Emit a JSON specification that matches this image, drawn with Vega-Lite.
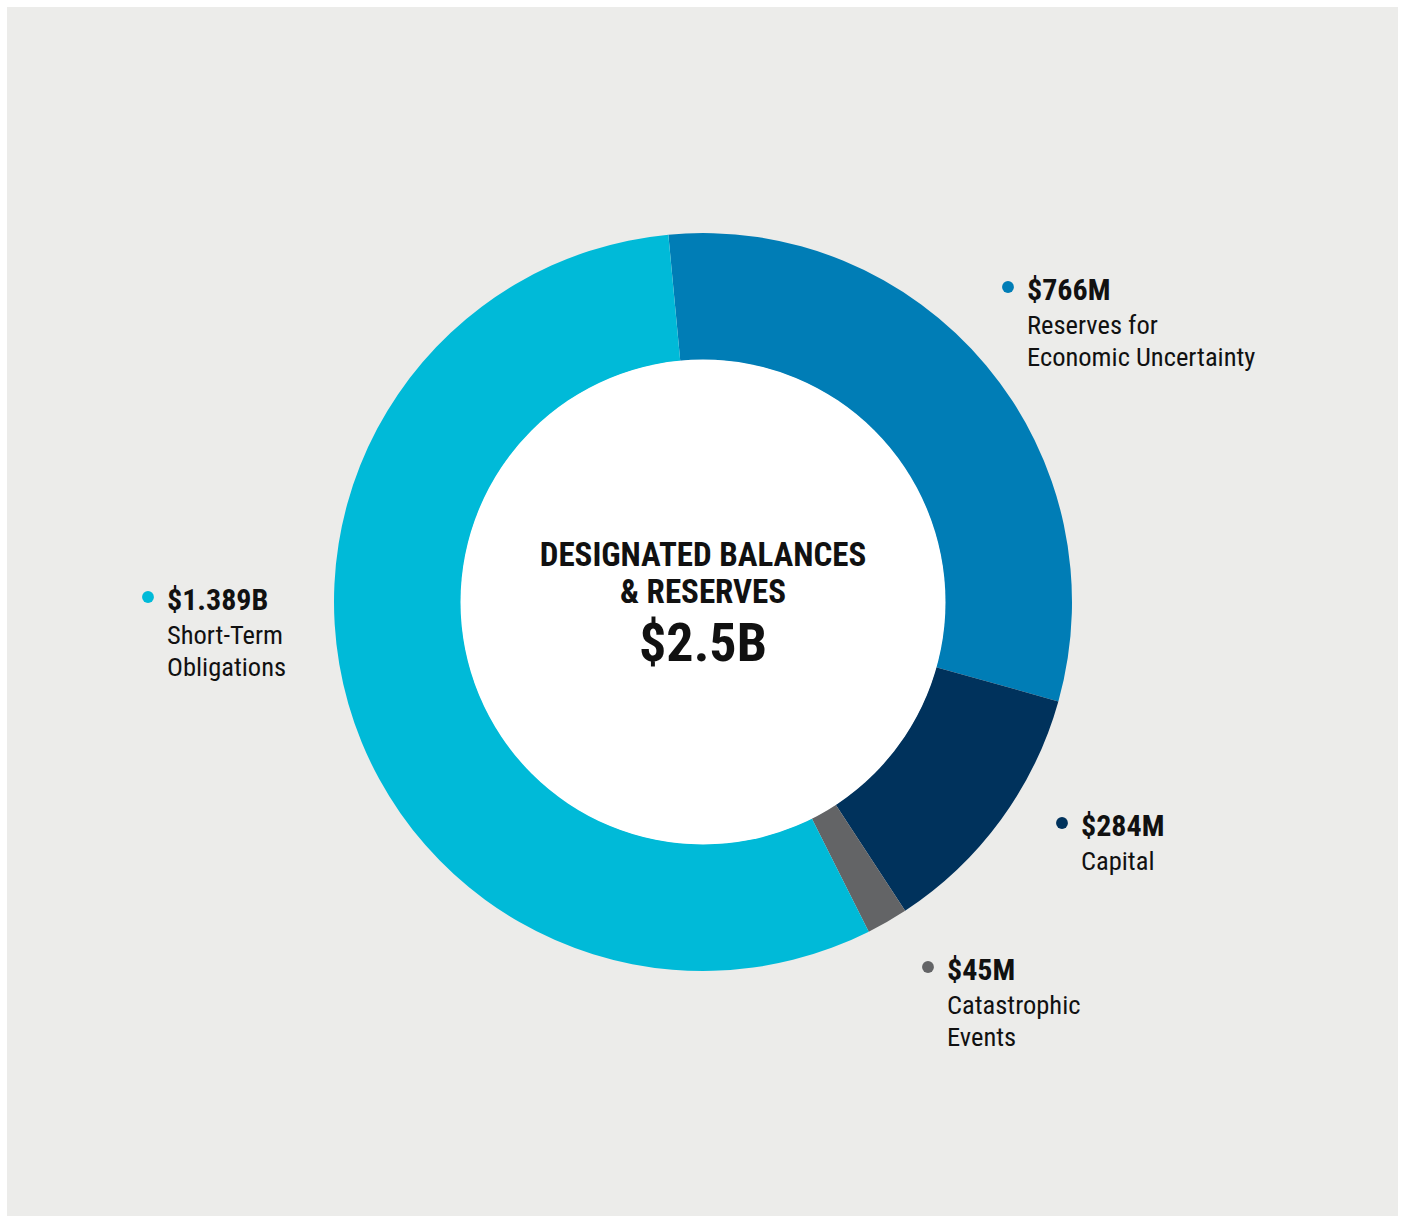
{
  "$schema": "https://vega.github.io/schema/vega-lite/v6.json",
  "width": 1403,
  "height": 1216,
  "autosize": {"type": "fit", "contains": "padding"},
  "padding": {"left": 7, "top": 7, "right": 5, "bottom": 0},
  "background": "#FFFFFF",
  "config": {
    "view": {"fill": "#ECECEA", "stroke": null},
    "font": "Roboto Condensed, 'Liberation Sans Narrow', 'DejaVu Sans Condensed', sans-serif"
  },
  "data": {
    "values": [
      {"cat": "Reserves for Economic Uncertainty", "value": 766, "order": 1, "amount": "$766M", "d1": "Reserves for", "d2": "Economic Uncertainty", "lx": 324, "ly": 302},
      {"cat": "Capital", "value": 284, "order": 2, "amount": "$284M", "d1": "Capital", "d2": "", "lx": 378, "ly": -234},
      {"cat": "Catastrophic Events", "value": 45, "order": 3, "amount": "$45M", "d1": "Catastrophic", "d2": "Events", "lx": 244, "ly": -378},
      {"cat": "Short-Term Obligations", "value": 1389, "order": 4, "amount": "$1.389B", "d1": "Short-Term", "d2": "Obligations", "lx": -536, "ly": -8}
    ]
  },
  "encoding": {
    "color": {
      "field": "cat",
      "type": "nominal",
      "scale": {
        "domain": ["Reserves for Economic Uncertainty", "Capital", "Catastrophic Events", "Short-Term Obligations"],
        "range": ["#007DB6", "#00325C", "#636466", "#00BAD8"]
      },
      "legend": null
    }
  },
  "layer": [
    {
      "mark": {"type": "arc", "innerRadius": 242, "outerRadius": 369},
      "encoding": {
        "x": {"datum": 0, "type": "quantitative", "scale": {"domain": [-696, 695], "nice": false, "zero": false}, "axis": null},
        "y": {"datum": 0, "type": "quantitative", "scale": {"domain": [-614, 595], "nice": false, "zero": false}, "axis": null},
        "theta": {"field": "value", "type": "quantitative", "stack": true, "scale": {"range": [-0.094, 6.189]}},
        "order": {"field": "order", "type": "quantitative"}
      }
    },
    {
      "data": {"values": [{"hole": "centre"}]},
      "mark": {"type": "point", "shape": "circle", "filled": true, "opacity": 1, "size": 235225, "strokeWidth": 0},
      "encoding": {
        "x": {"datum": 0, "type": "quantitative"},
        "y": {"datum": 0, "type": "quantitative"},
        "color": {"value": "#FFFFFF"}
      }
    },
    {
      "mark": {"type": "point", "filled": true, "opacity": 1, "size": 140, "xOffset": -19, "yOffset": -13},
      "encoding": {
        "x": {"field": "lx", "type": "quantitative"},
        "y": {"field": "ly", "type": "quantitative"}
      }
    },
    {
      "mark": {"type": "text", "align": "left", "baseline": "alphabetic", "fontSize": 30, "fontWeight": "bold"},
      "encoding": {
        "x": {"field": "lx", "type": "quantitative"},
        "y": {"field": "ly", "type": "quantitative"},
        "text": {"field": "amount", "type": "nominal"},
        "color": {"value": "#111111"}
      }
    },
    {
      "mark": {"type": "text", "align": "left", "baseline": "alphabetic", "fontSize": 26.5, "dy": 34},
      "encoding": {
        "x": {"field": "lx", "type": "quantitative"},
        "y": {"field": "ly", "type": "quantitative"},
        "text": {"field": "d1", "type": "nominal"},
        "color": {"value": "#111111"}
      }
    },
    {
      "mark": {"type": "text", "align": "left", "baseline": "alphabetic", "fontSize": 26.5, "dy": 66},
      "encoding": {
        "x": {"field": "lx", "type": "quantitative"},
        "y": {"field": "ly", "type": "quantitative"},
        "text": {"field": "d2", "type": "nominal"},
        "color": {"value": "#111111"}
      }
    },
    {
      "data": {"values": [{"t": "DESIGNATED BALANCES", "k": 1}]},
      "mark": {"type": "text", "align": "center", "baseline": "alphabetic", "fontSize": 33, "fontWeight": "bold", "dy": -36},
      "encoding": {
        "x": {"datum": 0, "type": "quantitative"},
        "y": {"datum": 0, "type": "quantitative"},
        "text": {"field": "t", "type": "nominal"},
        "color": {"value": "#111111"}
      }
    },
    {
      "data": {"values": [{"t": "& RESERVES", "k": 2}]},
      "mark": {"type": "text", "align": "center", "baseline": "alphabetic", "fontSize": 33, "fontWeight": "bold", "dy": 1},
      "encoding": {
        "x": {"datum": 0, "type": "quantitative"},
        "y": {"datum": 0, "type": "quantitative"},
        "text": {"field": "t", "type": "nominal"},
        "color": {"value": "#111111"}
      }
    },
    {
      "data": {"values": [{"t": "$2.5B", "k": 3}]},
      "mark": {"type": "text", "align": "center", "baseline": "alphabetic", "fontSize": 54, "fontWeight": "bold", "dy": 59},
      "encoding": {
        "x": {"datum": 0, "type": "quantitative"},
        "y": {"datum": 0, "type": "quantitative"},
        "text": {"field": "t", "type": "nominal"},
        "color": {"value": "#111111"}
      }
    }
  ]
}
